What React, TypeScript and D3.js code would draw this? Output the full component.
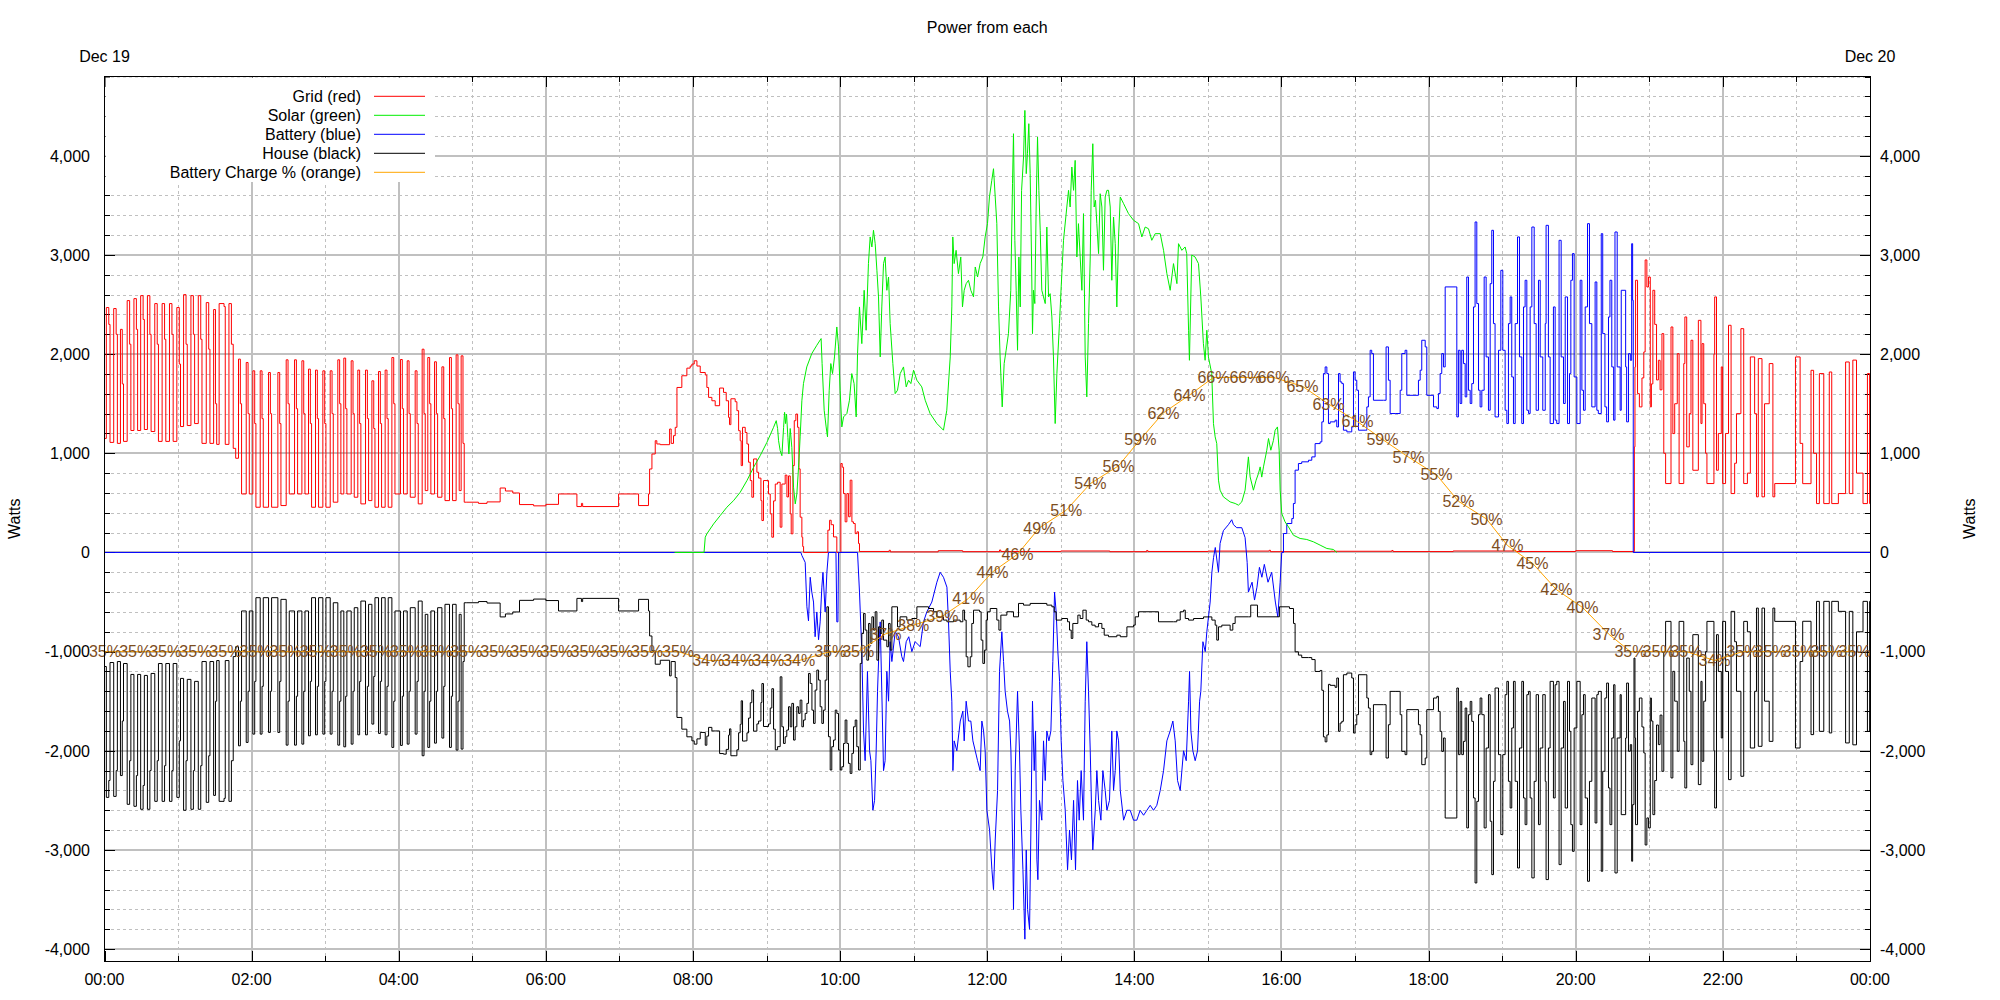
import React from "react";
import * as d3 from "d3";

// ---------- DATA (minutes since 00:00, watts) ----------
const gridNight1: number[][] = [
  [0,1150],[1.5,2470],[3.5,2300],[4.5,1110],[7.5,2460],[9.5,2200],[10.5,1100],[13,2250],[14.5,1700],[15.5,1120],
  [18.5,2540],[20.5,2100],[21.5,1230],[24,2560],[26,2250],[27,1230],[29.5,2590],[31.5,2350],[32.5,1240],
  [35,2590],[37,2200],[38,1220],[41,2510],[43,2100],[44,1120],[47,2510],[49,2150],[50,1120],[53,2510],[55,2200],[56,1120],
  [59,2470],[61,1900],[62,1270],[64.5,2600],[66.5,2100],[67.5,1280],[70.5,2590],[72.5,2200],[73.5,1300],
  [76.5,2590],[78.5,2150],[79.5,1100],[83,2520],[85,2050],[86,1100],[89,2450],[90.5,1500],[91.5,1090],
  [93.5,2510],[97.5,2480],[98.5,1090],[101.5,2510],[103.5,2100],[105,1050],[107,950],
];
const gridNight2: number[][] = [
  [109.3,1950],[110.8,1500],[111.8,590],[115.6,1916],[117.1,1400],[118.1,590],[121,1832],[122.5,1300],[123.5,456],
  [127,1832],[128.5,1350],[129.5,456],[133.8,1815],[135.3,1400],[136.3,456],[141.4,1815],[142.9,1300],[143.9,473],
  [148.2,1943],[149.7,1500],[150.7,590],[155,1943],[156.5,1450],[157.5,590],[161,1933],[162.5,1400],[163.5,590],
  [166.4,1849],[167.9,1300],[168.9,456],[172.1,1839],[173.6,1350],[174.6,456],[178.1,1832],[179.6,1300],[180.6,456],
  [184.1,1832],[185.6,1400],[186.6,507],[190.3,1943],[191.8,1500],[192.8,590],[195.2,1960],[196.7,1450],[197.7,590],
  [201.2,1933],[202.7,1400],[203.7,557],[206.6,1839],[208.1,1300],[209.1,490],[212.9,1839],[214.4,1350],[215.4,523],
  [218.1,1731],[219.6,1250],[220.6,456],[223.5,1825],[225,1300],[226,456],[228.9,1839],[230.4,1350],[231.4,456],
  [234.4,1966],[235.9,1500],[236.9,590],[241.4,1946],[242.9,1450],[243.9,590],[246.9,1933],[248.4,1400],[249.4,557],
  [253.4,1832],[254.9,1300],[255.9,490],[259.1,2050],[260.6,1400],[261.6,624],[263.7,1966],[265.2,1500],[266.2,590],
  [269.2,1923],[270.7,1400],[271.7,557],[275.2,1872],[276.7,1350],[277.7,523],[281.4,1966],[282.9,1450],[283.9,523],
  [286.8,1993],[288.3,1500],[289.3,624],[290.9,1983],[292.4,1100],[293.4,507],
];
const gridMorning: number[][] = [
  [295,507],[305,495],[312,510],[322.7,650],[327,620],[333,600],[338.5,483],[350,470],[360,485],[370.3,590],
  [385.3,463],[389,495],[390,463],[419.3,590],[435.6,473],
  [443.7,590],[444.6,842],[446.5,993],[449.2,1127],[450.5,1094],[453.3,1087],[460.9,1245],[462.2,1100],[464.1,1178],
  [465.5,1262],[466.9,1664],[470.9,1782],[475,1859],[477.7,1880],[479.1,1900],[481,1933],[483.2,1880],[485.9,1815],
  [490,1790],[491.3,1664],[492.7,1564],[495.4,1530],[498.1,1480],[501.7,1658],[504.9,1614],[507.1,1530],[509,1362],
  [509.8,1289],[510.9,1550],[514.4,1520],[515.8,1430],[517.2,1228],[518.5,1127],[519.3,876],[520.4,1262],[522.6,1210],
  [524,1094],[525.3,910],[526.7,725],[528,557],[529.4,943],[532.1,809],[533.5,750],[535.4,523],[536.2,322],[537.5,725],
  [541.6,590],[543,389],[544.3,154],[545.7,520],[547.1,690],[549,708],[551.1,255],[552.5,690],[555.2,780],[556.6,560],
  [557.9,772],[559.3,389],[560.1,188],[561.5,876],[562.6,1329],[563.9,1396],[565.3,1262],[566.4,843],[567.4,356],
  [568.8,154],[569.5,60],[570.2,0],[590,225],[591.4,325],[592.7,280],[594.6,157],[597.3,0],[600.6,897],[601.7,860],
  [602.8,594],[604.1,309],[605.5,594],[606.9,360],[608.2,729],[609.6,309],[610.9,292],[612.3,190],[613.7,208],[615,90],
];
const gridDay: number[][] = [
  [615.8,10],[640,22],[641,6],[680,18],[700,8],[730,25],[731,10],[780,15],[820,8],[850,20],[851,10],[900,14],
  [950,22],[951,8],[1000,12],[1050,20],[1051,9],[1100,15],[1150,24],[1151,10],[1200,18],[1230,10],
];
const gridEvening: number[][] = [
  [1247.8,1065],[1248.3,1871],[1248.8,2745],[1250.4,1602],[1251.9,1468],[1254,1760],[1255.5,2022],[1256.6,2950],[1258,2677],
  [1259.3,2778],[1260.8,1468],[1261.7,1700],[1262.9,2644],[1264.4,2300],[1265.9,1740],[1267.4,1938],[1268.8,1640],
  [1270.3,2207],[1271.8,1000],[1273.3,695],[1277.7,2274],[1279.2,1199],[1280.7,1500],[1282.8,2005],[1284.3,695],
  [1288.1,1905],[1289,2375],[1290.5,1065],[1292.6,1400],[1294,2140],[1295.5,829],[1300,2341],[1302.1,1300],[1303,2106],
  [1304.4,1500],[1305.9,1000],[1307,695],[1312.7,2000],[1313.3,2577],[1314.8,829],[1316.3,1200],[1318.7,1871],
  [1319.8,695],[1322.2,1200],[1324.6,2291],[1326.7,594],[1329.6,900],[1331.1,1400],[1334.7,2257],[1337,695],[1340,800],
  [1342.4,1972],[1345.9,1400],[1347.4,561],[1348.9,1955],[1351.9,561],[1354,1500],[1357.8,1905],[1360.8,561],
  [1362.3,695],[1379.2,1972],[1383,1100],[1385.1,694],[1391.9,1837],[1394,1000],[1396.4,493],[1398.7,1804],
  [1402.3,493],[1406.8,1820],[1408.8,493],[1414.2,594],[1420.1,1921],[1423.1,594],[1426,1940],[1429,800],[1434.3,493],
  [1437.9,1804],[1439.7,493],[1440,493],
];

const batteryMidday: number[][] = [
  [0,0],[568,0],[568.8,-30],[571.5,-100],[572.9,-548],[574.2,-690],[575.6,-250],[576.9,-400],[578.3,-500],[579.6,-850],
  [581,-600],[582.4,-880],[583.7,-700],[585.1,-350],[586,-200],[587.8,-600],[589.2,-200],[590.5,0],[596.6,0],[597.3,-700],
  [598.2,-700],[598.7,0],[614.2,0],[615.8,-400],[617.7,-1000],[619.1,-1800],[620.4,-2100],[622.3,-1200],[624,-2000],
  [625.1,-2100],[626.7,-2600],[628.1,-2500],[629.4,-2000],[630.5,-1400],[631.9,-900],[632.7,-700],[634,-1400],
  [635.4,-2200],[636.7,-2100],[638.1,-1200],[639.5,-1500],[640.8,-900],[642.2,-1100],[644.9,-800],[647.6,-850],
  [650.3,-1050],[651.7,-1100],[653.9,-900],[656,-850],[658.5,-1000],[661.2,-900],[665.3,-950],[668,-700],[670.7,-600],
  [674.8,-500],[678.9,-300],[681.6,-200],[684.3,-250],[687.1,-350],[688.4,-700],[689.8,-1200],[691.1,-1500],[692,-2200],
  [693,-1900],[695.2,-2000],[698,-1700],[700.1,-1600],[701.2,-1900],[702.8,-1500],[704.7,-1700],[706.6,-1700],
  [708.3,-1900],[710.2,-2000],[712.1,-2100],[714.2,-2200],[715.6,-1700],[717,-1800],[718.3,-2000],[719.7,-2600],
  [721.9,-2800],[723.8,-3200],[725.1,-3400],[726.5,-2900],[728.4,-2400],[730,-1200],[731.9,-800],[733.3,-1100],
  [734.6,-1400],[736.5,-1600],[738.2,-1700],[739.3,-2000],[740.9,-3100],[741.4,-3600],[742.8,-2200],[744.7,-1400],
  [746.3,-2000],[747.4,-2600],[749.1,-3200],[750.7,-3900],[751.8,-3000],[752.9,-3600],[754.5,-3800],[755.6,-2800],
  [756.9,-1500],[758.3,-2200],[759.4,-1800],[760.5,-3100],[761.3,-3300],[762.6,-2500],[764.5,-2700],[765.9,-1900],
  [767.3,-2300],[768.6,-1800],[770.3,-1900],[771.9,-1800],[773.5,-1100],[774.9,-400],[776.2,-600],[777.6,-1000],
  [779,-1300],[780.3,-1900],[781.7,-2300],[783.6,-2600],[785.5,-3200],[787.1,-2800],[788.7,-3100],[790.4,-2500],
  [792,-3200],[793.6,-2300],[795,-2700],[796.6,-2200],[798.5,-2700],[799.9,-1500],[801.2,-900],[802.6,-1400],
  [804,-2000],[805.3,-2700],[806.1,-3000],[808.1,-2600],[809.4,-2200],[810.8,-2500],[812.7,-2700],[814.3,-2200],
  [816.2,-2400],[817.6,-2600],[819.7,-2500],[821.6,-1800],[823,-2400],[824.4,-2200],[825.7,-1800],[827.1,-1900],
  [828.5,-2400],[831.2,-2700],[833.9,-2600],[836.6,-2600],[839.3,-2700],[842,-2700],[844.7,-2600],[847.5,-2650],
  [850.2,-2600],[852.9,-2550],[855.6,-2600],[858.3,-2550],[861.1,-2400],[863.8,-2200],[866.5,-1900],[869.2,-1800],
  [871.4,-1700],[873.3,-1900],[875.2,-2300],[877.4,-2400],[880.1,-2000],[882.3,-2100],[884.2,-1500],[885,-1200],
  [886.1,-1800],[887.7,-2000],[889.6,-2100],[891.5,-2000],[893.2,-1500],[894.2,-1400],[895.9,-900],[897.8,-1000],
  [899.1,-800],[901.8,-500],[903.2,-200],[904.6,-50],[906,50],[908.6,-200],[909.9,90],[912.6,220],[916.7,280],
  [919.4,330],[920.8,280],[923.5,250],[927.6,250],[930.3,150],[932,-100],[933,-400],[936,-300],[938,-480],[940,-350],
  [942,-150],[944,-250],[946,-120],[949,-300],[952,-200],[955,-500],[957,-650],[958.9,-300],
];
const batteryEvening: number[][] = [
  [960.2,0],[961.6,191],[964.3,292],[968.4,342],[969.7,494],[971.1,830],[973.8,897],[976.5,914],[982,930],[984.7,964],
  [987.4,1098],[991.5,1115],[992.9,1317],[994.2,1804],[995.6,1871],[997,1804],[998.3,1300],[999.7,1317],[1003.7,1334],
  [1005.1,1266],[1006.5,1804],[1007.8,1720],[1009.2,1703],[1010.5,1233],[1013.3,1216],[1017.3,1266],[1018.7,1821],
  [1020,1737],[1021.4,1636],[1022.8,1233],[1028.2,1233],[1029.6,1468],[1030.9,1569],[1032.3,2039],[1033.6,2006],
  [1035,1535],[1043.2,1535],[1045.3,2073],[1047.2,1737],[1048.6,1401],[1052.7,1401],[1056.8,1636],[1058.1,2006],
  [1060.8,2039],[1062.2,1585],[1071.7,1737],[1073.1,1838],[1074.4,2140],[1077.2,2073],[1078.5,1585],[1084,1468],
  [1086.7,1451],[1088,1603],[1089.4,1804],[1090.7,2006],[1092.1,1871],[1093.5,2678],[1101.6,2678],[1103,1367],
  [1104.3,2039],[1105.7,1502],[1107,2039],[1108.4,1905],[1109.8,1569],[1111.1,2778],[1112.5,1636],[1113.9,1502],
  [1115.2,1703],[1116.6,2476],[1117.9,3333],[1119.3,2510],[1120.7,1636],[1122,1468],[1123.4,1636],[1125.3,2778],
  [1126.9,1972],[1128.8,1434],[1130.2,2711],[1131.5,3249],[1132.9,2308],[1134.2,1367],[1137,2039],[1138.9,2845],
  [1140.5,2039],[1142.4,1434],[1143.8,1300],[1145.1,2308],[1146.5,2577],[1147.8,1770],[1149.2,1300],[1150.6,2308],
  [1152.5,3182],[1154.1,1972],[1156,1300],[1157.4,2476],[1158.7,2745],[1160.1,1434],[1161.5,1401],[1162.8,2476],
  [1164.2,3282],[1166.1,2308],[1167.7,1434],[1169.6,2745],[1171,1972],[1173.1,1434],[1175.1,2308],[1175.8,3299],
  [1177.7,1972],[1179.1,1300],[1181.8,2476],[1183.2,1334],[1184.5,1300],[1186.4,3148],[1188.1,1972],[1190,1502],
  [1191.4,2577],[1193.3,1300],[1194.9,1804],[1196,2745],[1197.3,3014],[1198.7,1770],[1200.9,1300],[1203.6,2745],
  [1205,1636],[1206.3,1434],[1207.7,2476],[1209.6,3316],[1211.2,2308],[1213.1,1468],[1215.8,2728],[1217.2,1434],
  [1218.4,1401],[1220.8,3215],[1222,2207],[1223.8,1468],[1225.2,1317],[1226.7,2375],[1227.9,2745],[1229.4,1871],
  [1230.9,1334],[1232,3232],[1233.8,1871],[1236.2,1434],[1237.1,2644],[1240.7,1871],[1241.5,1317],[1243,2005],
  [1244.5,1938],[1245.6,3114],[1246.4,2543],[1246.9,0],[1440,0],
];

const solarData: number[][] = [
  [465,0],[489,0],[490,154],[491.3,188],[496.8,288],[502.2,372],[507.6,456],[513.1,523],[518.5,607],[524,725],[529.4,859],
  [534.8,976],[540.3,1111],[545.7,1262],[547.9,1329],[549,1250],[549.8,1127],[551.1,1027],[552.5,976],[553.9,1262],
  [554.7,1413],[555.5,1300],[556.3,1396],[557.4,1160],[558.2,993],[559.3,1250],[560.6,1060],[562,658],[563.4,490],
  [564.7,590],[566.1,859],[567.4,1166],[568.8,1530],[570.1,1703],[572.8,1871],[576.9,2006],[581,2090],[584.5,2157],
  [585.3,1905],[587,1434],[588.6,1266],[589.7,1166],[591.1,1636],[592.4,1905],[593.8,1804],[595.4,1972],[597.3,2274],
  [598.7,2073],[600,1636],[601.4,1266],[602.8,1367],[605.5,1401],[607.6,1535],[609.5,1804],[611.4,1703],[613.1,1367],
  [614.2,2006],[615.8,2476],[617.7,2106],[619.6,2644],[621.2,2241],[623.1,2913],[624.5,3182],[625.9,3081],[627.2,3249],
  [628.6,3114],[630,2846],[631.3,2577],[632.7,1972],[634,2476],[635.4,2913],[636.7,2980],[638.1,2644],[639.5,2778],
  [640.8,2308],[643,1905],[644.9,1602],[646.8,1636],[649,1804],[651.7,1871],[653.9,1670],[655.8,1737],[657.7,1703],
  [659.9,1838],[662.6,1737],[666.6,1670],[669.4,1535],[673.4,1401],[678.9,1300],[684.3,1233],[687,1434],[689.8,1972],
  [691.1,2476],[691.9,3182],[693,2913],[694.6,3047],[696.5,2812],[698.4,2980],[699.8,2476],[701.2,2644],[702.8,2711],
  [704.7,2745],[706.6,2644],[708.8,2577],[710.2,2879],[712.1,2778],[714.2,2913],[716.4,2980],[718.3,3182],[720.2,3316],
  [721.8,3585],[723.7,3753],[725.1,3870],[726.5,3585],[727.8,3316],[729.2,2476],[730.5,1972],[732.2,1468],[733.8,1905],
  [735.4,2039],[737.3,2207],[739.2,2644],[740.6,3719],[741.4,4223],[742.5,3148],[743.6,2644],[744.7,2039],[745.8,2980],
  [746.9,2476],[748,3652],[749.6,3988],[750.7,4458],[751.8,3820],[752.8,4022],[753.9,4324],[755,3820],[756.1,2980],
  [756.9,2207],[757.7,2644],[758.8,2510],[759.9,3484],[761,4190],[762.1,3652],[763.2,3249],[764.5,2644],[765.9,2577],
  [767.3,2510],[768.6,3282],[770,2577],[771.3,2610],[772.7,2375],[774,1972],[775.4,1300],[776.8,1804],[778.9,2308],
  [780.3,2678],[782.2,3148],[784.9,3484],[786.3,3652],[787.6,3484],[789,3887],[790.4,3652],[791.7,3954],[793.1,2980],
  [794.4,3316],[795.8,2980],[797.2,2644],[798.5,3417],[799.9,1972],[801.2,1569],[802.6,2308],[804,2980],[804.8,3652],
  [806.1,4122],[807.2,3484],[808.3,3551],[809.4,3316],[810.8,3014],[812.1,3618],[813.5,3484],[814.8,2846],[816.2,3585],
  [817.6,3652],[818.9,3652],[820.3,3484],[821.6,2745],[823,3383],[824.4,3114],[825.7,2476],[827.1,3182],[828.5,3585],
  [831.2,3518],[835.2,3417],[839.3,3350],[843.4,3316],[846.1,3182],[848.8,3282],[851.5,3265],[854.2,3148],[857,3215],
  [861.1,3215],[863.8,3047],[866.5,2812],[869.2,2644],[871.9,2913],[874.7,2711],[876,3114],[878.7,3047],[881.4,3081],
  [882.7,3014],[884.2,2241],[884.9,1938],[886.8,3000],[889.5,2980],[892.3,2913],[894.2,2577],[896.3,2106],[897.7,1938],
  [899.1,2241],[900.4,1972],[903.1,1804],[904.5,1300],[905.9,1166],[907.2,1098],[908.6,729],[909.9,628],[912.6,561],
  [918.1,510],[922.2,494],[924.9,477],[927.6,510],[930.3,628],[931.7,796],[933,964],[934.4,762],[937.1,628],[939.3,729],
  [941.2,796],[942.6,863],[943.9,760],[945.3,863],[948,1031],[949.4,1149],[951.3,1031],[953.4,1130],[954.8,1233],
  [956.7,1266],[958.1,1031],[958.9,628],[960.2,393],[962.9,309],[965.7,258],[969.7,174],[975.2,141],[980.6,131],
  [986.1,107],[991.5,74],[997,40],[1002.4,30],[1005.1,0],
];

const houseNight1: number[][] = [
  [0,-1150],[1.5,-2470],[3.5,-2300],[4.5,-1110],[7.5,-2460],[9.5,-2200],[10.5,-1100],[13,-2250],[14.5,-1700],[15.5,-1120],
  [18.5,-2540],[20.5,-2100],[21.5,-1230],[24,-2560],[26,-2250],[27,-1230],[29.5,-2590],[31.5,-2350],[32.5,-1240],
  [35,-2590],[37,-2200],[38,-1220],[41,-2510],[43,-2100],[44,-1120],[47,-2510],[49,-2150],[50,-1120],[53,-2510],[55,-2200],[56,-1120],
  [59,-2470],[61,-1900],[62,-1270],[64.5,-2600],[66.5,-2100],[67.5,-1280],[70.5,-2590],[72.5,-2200],[73.5,-1300],
  [76.5,-2590],[78.5,-2150],[79.5,-1100],[83,-2520],[85,-2050],[86,-1100],[89,-2450],[90.5,-1500],[91.5,-1090],
  [93.5,-2510],[97.5,-2480],[98.5,-1090],[101.5,-2510],[103.5,-2100],[105,-1050],[107,-950],
];
const houseNight2: number[][] = [
  [109.3,-1950],[110.8,-1500],[111.8,-590],[115.6,-1916],[117.1,-1400],[118.1,-590],[121,-1832],[122.5,-1300],[123.5,-456],
  [127,-1832],[128.5,-1350],[129.5,-456],[133.8,-1815],[135.3,-1400],[136.3,-456],[141.4,-1815],[142.9,-1300],[143.9,-473],
  [148.2,-1943],[149.7,-1500],[150.7,-590],[155,-1943],[156.5,-1450],[157.5,-590],[161,-1933],[162.5,-1400],[163.5,-590],
  [166.4,-1849],[167.9,-1300],[168.9,-456],[172.1,-1839],[173.6,-1350],[174.6,-456],[178.1,-1832],[179.6,-1300],[180.6,-456],
  [184.1,-1832],[185.6,-1400],[186.6,-507],[190.3,-1943],[191.8,-1500],[192.8,-590],[195.2,-1960],[196.7,-1450],[197.7,-590],
  [201.2,-1933],[202.7,-1400],[203.7,-557],[206.6,-1839],[208.1,-1300],[209.1,-490],[212.9,-1839],[214.4,-1350],[215.4,-523],
  [218.1,-1731],[219.6,-1250],[220.6,-456],[223.5,-1825],[225,-1300],[226,-456],[228.9,-1839],[230.4,-1350],[231.4,-456],
  [234.4,-1966],[235.9,-1500],[236.9,-590],[241.4,-1946],[242.9,-1450],[243.9,-590],[246.9,-1933],[248.4,-1400],[249.4,-557],
  [253.4,-1832],[254.9,-1300],[255.9,-490],[259.1,-2050],[260.6,-1400],[261.6,-624],[263.7,-1966],[265.2,-1500],[266.2,-590],
  [269.2,-1923],[270.7,-1400],[271.7,-557],[275.2,-1872],[276.7,-1350],[277.7,-523],[281.4,-1966],[282.9,-1450],[283.9,-523],
  [286.8,-1993],[288.3,-1500],[289.3,-624],[290.9,-1983],[292.4,-1100],[293.4,-507],
];
const houseMorning: number[][] = [
  [295,-507],[305,-495],[312,-510],[322.7,-650],[327,-620],[333,-600],[338.5,-483],[350,-470],[360,-485],[370.3,-590],
  [385.3,-463],[389,-495],[390,-463],[419.3,-590],[435.6,-473],
  [443.7,-590],[444.6,-842],[446.5,-993],[449.2,-1127],[453.3,-1087],[460.9,-1245],[462.2,-1100],[465.5,-1262],
  [466.9,-1664],[470.9,-1782],[475,-1859],[479.1,-1900],[481,-1933],[483.2,-1880],[485.9,-1815],[490,-1944],[491.3,-1852],
  [492.7,-1764],[495.4,-1800],[498.1,-1800],[501.7,-2028],[504.9,-2034],[507.1,-1986],[509,-1842],[509.8,-1779],
  [510.9,-2050],[514.4,-2050],[515.8,-1990],[517.2,-1818],[518.5,-1734],[519.3,-1496],[520.4,-1902],[522.6,-1900],
  [524,-1819],[525.3,-1670],[526.7,-1515],[528,-1387],[529.4,-1802],[532.1,-1729],[533.5,-1700],[535.4,-1513],
  [536.2,-1322],[537.5,-1755],[541.6,-1730],[543,-1569],[544.3,-1374],[545.7,-1782],[547.1,-1990],[549,-1958],
  [551.1,-1254],[552.5,-1758],[553.8,-1926],[555.2,-1858],[556.5,-1791],[557.9,-1556],[559.3,-1758],[560.6,-1522],
  [562,-1892],[563.3,-1758],[564.7,-1556],[566.1,-1623],[567.4,-1489],[568.8,-1758],[570.1,-1690],[571.5,-1623],
  [572.9,-1522],[574.2,-1220],[575.6,-1321],[577,-1590],[578.3,-1724],[579.6,-1388],[581,-1186],[582.4,-1287],
  [583.7,-1556],[585.1,-1724],[586.4,-1590],[587.8,-1287],[589.2,-548],[590.5,-1858],[591.9,-2194],[593.2,-1959],
  [594.6,-1892],[596,-1590],[597.3,-1623],[598.7,-1993],[600.1,-2194],[601.4,-2161],[602.8,-1926],[604.1,-1690],
  [605.5,-1926],[606.8,-2127],[608.2,-2228],[609.6,-2026],[610.9,-1758],[612.3,-1690],[613.6,-1959],[615,-2194],
];
const houseMidday: number[][] = [
  [616.4,-1119],[617.7,-817],[619.1,-615],[620.4,-783],[621.8,-1086],[623.2,-716],[624.5,-918],[625.9,-649],[627.2,-783],
  [628.6,-598],[630,-1086],[631.3,-750],[632.7,-817],[634,-682],[635.4,-884],[638.1,-951],[639.5,-716],[640.8,-985],
  [642.2,-548],[646.8,-750],[648.9,-649],[654.4,-682],[658.5,-666],[662.6,-548],[672.1,-565],[676.2,-598],[678.9,-649],
  [684.3,-682],[687.1,-699],[692.5,-682],[697.9,-699],[700.1,-582],[701.5,-682],[702.8,-1052],[704.2,-1153],[706.1,-1052],
  [707.4,-716],[708.8,-582],[713.7,-598],[715,-884],[716.4,-1119],[717.8,-985],[719.1,-682],[720.2,-598],[722.4,-565],
  [727.8,-682],[729.5,-783],[731.1,-632],[736,-598],[741.4,-649],[745.5,-514],[749.6,-531],[755,-514],[768.6,-531],
  [772.7,-548],[774.6,-598],[776.2,-682],[780.8,-666],[785.5,-699],[787.1,-783],[788.5,-867],[789.8,-716],[793.9,-632],
  [795.8,-666],[798,-582],[800.7,-682],[802.6,-699],[805.3,-733],[808,-750],[810.8,-716],[813.5,-766],[815.4,-834],
  [818.9,-850],[825.7,-834],[828.5,-850],[833.9,-750],[839.3,-733],[840.7,-649],[843.4,-598],[859.7,-699],[872,-699],
  [874.6,-682],[877.4,-598],[880.1,-582],[881.5,-666],[884.2,-682],[888.3,-666],[896.4,-650],[903.2,-682],[905.9,-733],
  [907.2,-884],[908.6,-750],[911.3,-733],[918.1,-783],[920.3,-716],[922.2,-649],[933,-649],[934.9,-531],[940.4,-649],
  [958.3,-548],[966.5,-565],[969.8,-716],[971.1,-1002],[973.8,-1035],[976.5,-1060],[982,-1060],[984.7,-1080],
  [987.4,-1200],[991.5,-1190],[992.9,-1390],[994.2,-1860],[995.6,-1910],[997,-1840],[998.3,-1330],[999.7,-1340],
  [1003.7,-1360],[1005.1,-1266],[1006.5,-1804],[1007.8,-1720],[1009.2,-1703],
];
const houseEvening: number[][] = [
  [1010.5,-1233],[1013.3,-1216],[1017.3,-1266],[1018.7,-1821],[1020,-1737],[1021.4,-1636],[1022.8,-1233],[1028.2,-1233],
  [1029.6,-1468],[1030.9,-1569],[1032.3,-2039],[1033.6,-2006],[1035,-1535],[1043.2,-1535],[1045.3,-2073],[1047.2,-1737],
  [1048.6,-1401],[1052.7,-1401],[1056.8,-1636],[1058.1,-2006],[1060.8,-2039],[1062.2,-1585],[1071.7,-1737],[1073.1,-1838],
  [1074.4,-2140],[1077.2,-2073],[1078.5,-1585],[1084,-1468],[1086.7,-1451],[1088,-1603],[1089.4,-1804],[1090.7,-2006],
  [1092.1,-1871],[1093.5,-2678],[1101.6,-2678],[1103,-1367],[1104.3,-2039],[1105.7,-1502],[1107,-2039],[1108.4,-1905],
  [1109.8,-1569],[1111.1,-2778],[1112.5,-1636],[1113.9,-1502],[1115.2,-1703],[1116.6,-2476],[1117.9,-3333],[1119.3,-2510],
  [1120.7,-1636],[1122,-1468],[1123.4,-1636],[1125.3,-2778],[1126.9,-1972],[1128.8,-1434],[1130.2,-2711],[1131.5,-3249],
  [1132.9,-2308],[1134.2,-1367],[1137,-2039],[1138.9,-2845],[1140.5,-2039],[1142.4,-1434],[1143.8,-1300],[1145.1,-2308],
  [1146.5,-2577],[1147.8,-1770],[1149.2,-1300],[1150.6,-2308],[1152.5,-3182],[1154.1,-1972],[1156,-1300],[1157.4,-2476],
  [1158.7,-2745],[1160.1,-1434],[1161.5,-1401],[1162.8,-2476],[1164.2,-3282],[1166.1,-2308],[1167.7,-1434],[1169.6,-2745],
  [1171,-1972],[1173.1,-1434],[1175.1,-2308],[1175.8,-3299],[1177.7,-1972],[1179.1,-1300],[1181.8,-2476],[1183.2,-1334],
  [1184.5,-1300],[1186.4,-3148],[1188.1,-1972],[1190,-1502],[1191.4,-2577],[1193.3,-1300],[1194.9,-1804],[1196,-2745],
  [1197.3,-3014],[1198.7,-1770],[1200.9,-1300],[1203.6,-2745],[1205,-1636],[1206.3,-1434],[1207.7,-2476],[1209.6,-3316],
  [1211.2,-2308],[1213.1,-1468],[1215.8,-2728],[1217.2,-1434],[1218.4,-1401],[1220.8,-3215],[1222,-2207],[1223.8,-1468],
  [1225.2,-1317],[1226.7,-2375],[1227.9,-2745],[1229.4,-1871],[1230.9,-1334],[1232,-3232],[1233.8,-1871],[1236.2,-1434],
  [1237.1,-2644],[1240.7,-1871],[1241.5,-1317],[1243,-2005],[1244.5,-1938],[1245.6,-3114],[1246.4,-2543],
];
const houseNight3: number[][] = [
  [1247.5,-1065],[1248.3,-1871],[1248.8,-2745],[1250.4,-1602],[1251.9,-1468],[1254,-1760],[1255.5,-2022],[1256.6,-2950],
  [1258,-2677],[1259.3,-2778],[1260.8,-1468],[1261.7,-1700],[1262.9,-2644],[1264.4,-2300],[1265.9,-1740],[1267.4,-1938],
  [1268.8,-1640],[1270.3,-2207],[1271.8,-1000],[1273.3,-695],[1277.7,-2274],[1279.2,-1199],[1280.7,-1500],[1282.8,-2005],
  [1284.3,-695],[1288.1,-1905],[1289,-2375],[1290.5,-1065],[1292.6,-1400],[1294,-2140],[1295.5,-829],[1300,-2341],
  [1302.1,-1300],[1303,-2106],[1304.4,-1500],[1305.9,-1000],[1307,-695],[1312.7,-2000],[1313.3,-2577],[1314.8,-829],
  [1316.3,-1200],[1318.7,-1871],[1319.8,-695],[1322.2,-1200],[1324.6,-2291],[1326.7,-594],[1329.6,-900],[1331.1,-1400],
  [1334.7,-2257],[1337,-695],[1340,-800],[1342.4,-1972],[1345.9,-1400],[1347.4,-561],[1348.9,-1955],[1351.9,-561],
  [1354,-1500],[1357.8,-1905],[1360.8,-561],[1362.3,-695],[1379.2,-1972],[1383,-1100],[1385.1,-694],[1391.9,-1837],
  [1394,-1000],[1396.4,-493],[1398.7,-1804],[1402.3,-493],[1406.8,-1820],[1408.8,-493],[1414.2,-594],[1420.1,-1921],
  [1423.1,-594],[1426,-1940],[1429,-800],[1434.3,-493],[1437.9,-1804],[1439.7,-493],[1440,-493],
];

const chargeTimes: number[] = [
  0.4,25,49.5,74.1,98.6,123.2,147.7,172.3,196.8,221.4,245.9,270.5,295,319.6,344.1,368.7,393.2,417.8,442.5,467.8,
  492.4,516.8,541.3,566.6,591.9,614.7,637,659.7,683.4,704.6,724.2,744.6,762.5,784.5,804.1,827,844.9,863.7,884.9,
  904.5,930.6,953.4,977.1,998.3,1022,1042.3,1063.5,1086.4,1104.3,1127.2,1144.3,1164.7,1184.3,1205.5,1226.7,1244.6,
  1267.5,1290.3,1313.2,1336,1358.9,1381.7,1404.5,1427.4,
];
const chargePct: number[] = [
  35,35,35,35,35,35,35,35,35,35,35,35,35,35,35,35,35,35,35,35,
  34,34,34,34,35,35,37,38,39,41,44,46,49,51,54,56,59,62,64,
  66,66,66,65,63,61,59,57,55,52,50,47,45,42,40,37,35,
  35,35,34,35,35,35,35,35,
];

const yMajorTicks = [-4000, -3000, -2000, -1000, 0, 1000, 2000, 3000, 4000];
const yTickLabels = ["-4,000", "-3,000", "-2,000", "-1,000", "0", "1,000", "2,000", "3,000", "4,000"];
const xMajorHours = [0, 2, 4, 6, 8, 10, 12, 14, 16, 18, 20, 22, 24];
const xTickLabels = ["00:00", "02:00", "04:00", "06:00", "08:00", "10:00", "12:00", "14:00", "16:00", "18:00", "20:00", "22:00", "00:00"];
const legendItems = [
  { label: "Grid (red)", color: "#ff0000" },
  { label: "Solar (green)", color: "#00ee00" },
  { label: "Battery (blue)", color: "#0000ff" },
  { label: "House (black)", color: "#000000" },
  { label: "Battery Charge % (orange)", color: "#ffa500" },
];

// ---------- CHART ----------
const FONT = "'Liberation Sans', Arial, Helvetica, sans-serif";
const L = 104.5, R = 1870, T = 76.5, B = 961;

export default function App() {
  const x = d3.scaleLinear().domain([0, 1440]).range([L, R]);
  const y = d3.scaleLinear().domain([-4120, 4800]).range([B, T]);
  const chargeToWatts = d3.scaleLinear().domain([35, 66]).range([-1000, 1765]);

  const step = d3.line<number[]>().x((d) => x(d[0])).y((d) => y(d[1])).curve(d3.curveStepAfter);
  const lin = d3.line<number[]>().x((d) => x(d[0])).y((d) => y(d[1])).curve(d3.curveLinear);

  const gridSeries = [...gridNight1, ...gridNight2, ...gridMorning, ...gridDay, ...gridEvening];
  const houseSeries = [...houseNight1, ...houseNight2, ...houseMorning, ...houseMidday, ...houseEvening, ...houseNight3];
  const chargeSeries = chargeTimes.map((t, i) => [t, chargeToWatts(chargePct[i])]);

  const yMinor = d3.range(-4000, 4801, 200).filter((v) => v % 1000 !== 0);
  const xMinorHours = d3.range(1, 24, 2);

  const gridColor = "#c0c0c0";

  return (
    <svg width={2000} height={1000} style={{ position: "absolute", left: 0, top: 0, display: "block", background: "#fff" }} fontFamily={FONT}>
      <rect x={0} y={0} width={2000} height={1000} fill="#fff" />
      <g stroke={gridColor} strokeWidth={1} strokeDasharray="3,3" shapeRendering="crispEdges">
        {yMinor.map((v) => <line key={"ym" + v} x1={L} x2={R} y1={Math.round(y(v)) + 0.5} y2={Math.round(y(v)) + 0.5} />)}
        {xMinorHours.map((h) => <line key={"xm" + h} x1={Math.round(x(h * 60)) + 0.5} x2={Math.round(x(h * 60)) + 0.5} y1={T} y2={B} />)}
      </g>
      <g stroke={gridColor} strokeWidth={2} shapeRendering="crispEdges">
        {yMajorTicks.map((v) => <line key={"yM" + v} x1={L} x2={R} y1={Math.round(y(v))} y2={Math.round(y(v))} />)}
        {xMajorHours.slice(1, -1).map((h) => <line key={"xM" + h} x1={Math.round(x(h * 60))} x2={Math.round(x(h * 60))} y1={T} y2={B} />)}
      </g>
      <g stroke="#000" strokeWidth={1} shapeRendering="crispEdges">
        {yMajorTicks.map((v) => (
          <g key={"yt" + v}>
            <line x1={L} x2={L + 10} y1={Math.round(y(v))} y2={Math.round(y(v))} />
            <line x1={R} x2={R - 10} y1={Math.round(y(v))} y2={Math.round(y(v))} />
          </g>
        ))}
        {yMinor.map((v) => (
          <g key={"ytm" + v}>
            <line x1={L} x2={L + 5} y1={Math.round(y(v)) + 0.5} y2={Math.round(y(v)) + 0.5} />
            <line x1={R} x2={R - 5} y1={Math.round(y(v)) + 0.5} y2={Math.round(y(v)) + 0.5} />
          </g>
        ))}
        {xMajorHours.map((h) => (
          <g key={"xt" + h}>
            <line x1={Math.round(x(h * 60))} x2={Math.round(x(h * 60))} y1={B} y2={B - 10} />
            <line x1={Math.round(x(h * 60))} x2={Math.round(x(h * 60))} y1={T} y2={T + 10} />
          </g>
        ))}
        {xMinorHours.map((h) => (
          <g key={"xtm" + h}>
            <line x1={Math.round(x(h * 60)) + 0.5} x2={Math.round(x(h * 60)) + 0.5} y1={B} y2={B - 5} />
            <line x1={Math.round(x(h * 60)) + 0.5} x2={Math.round(x(h * 60)) + 0.5} y1={T} y2={T + 5} />
          </g>
        ))}
      </g>
      <g fill="none" strokeWidth={1}>
        <path d={step(gridSeries) || ""} stroke="#ff0000" />
        <path d={lin([...batteryMidday, batteryEvening[0]]) || ""} stroke="#0000ff" />
        <path d={step(batteryEvening) || ""} stroke="#0000ff" />
        <path d={lin(solarData) || ""} stroke="#00ee00" />
        <path d={step(houseSeries) || ""} stroke="#000000" />
        <path d={lin(chargeSeries) || ""} stroke="#ffa500" />
      </g>
      <g fontSize={16} fill="#7d4e1e" textAnchor="middle">
        {chargeSeries.map((d, i) => (
          <text key={"c" + i} x={x(d[0])} y={y(d[1])} dy="0.36em">{chargePct[i] + "%"}</text>
        ))}
      </g>
      <rect x={L + 1} y={T + 1} width={435 - L - 1} height={182 - T - 1} fill="#fff" />
      <g fontSize={16} fill="#000">
        {legendItems.map((it, i) => {
          const cy = 96.3 + i * 19;
          return (
            <g key={it.label}>
              <text x={361} y={cy + 5.5} textAnchor="end">{it.label}</text>
              <line x1={374} x2={425} y1={cy} y2={cy} stroke={it.color} strokeWidth={1} />
            </g>
          );
        })}
      </g>
      <rect x={L} y={T} width={R - L} height={B - T} fill="none" stroke="#000" strokeWidth={1} shapeRendering="crispEdges" />
      <g fontSize={16} fill="#000">
        {yMajorTicks.map((v, i) => (
          <g key={"yl" + v}>
            <text x={90} y={y(v)} dy="0.36em" textAnchor="end">{yTickLabels[i]}</text>
            <text x={1880} y={y(v)} dy="0.36em" textAnchor="start">{yTickLabels[i]}</text>
          </g>
        ))}
        {xMajorHours.map((h, i) => (
          <text key={"xl" + i} x={x(h * 60)} y={985} textAnchor="middle">{xTickLabels[i]}</text>
        ))}
        <text x={x(0)} y={62} textAnchor="middle">Dec 19</text>
        <text x={x(1440)} y={62} textAnchor="middle">Dec 20</text>
        <text x={(L + R) / 2} y={33} textAnchor="middle">Power from each</text>
        <text transform={`translate(20, ${(T + B) / 2}) rotate(-90)`} textAnchor="middle">Watts</text>
        <text transform={`translate(1975, ${(T + B) / 2}) rotate(-90)`} textAnchor="middle">Watts</text>
      </g>
    </svg>
  );
}
